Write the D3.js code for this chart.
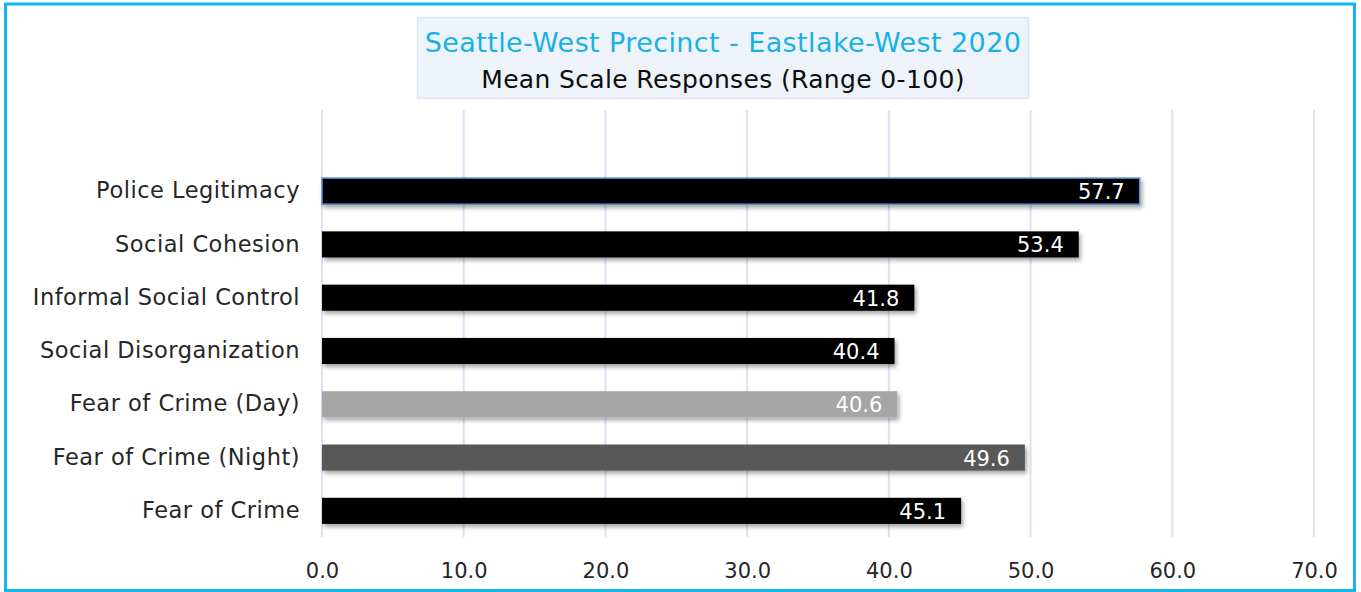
<!DOCTYPE html>
<html>
<head>
<meta charset="utf-8">
<script src="https://cdn.jsdelivr.net/npm/d3@7/dist/d3.min.js"></script>
<style>
  html, body { margin: 0; padding: 0; background: #fff; }
  svg { display: block; }
  text { font-family: "DejaVu Sans", sans-serif; }
</style>
</head>
<body>
<svg id="chart" width="1361" height="592"></svg>
<script>
const categories = ["Police Legitimacy", "Social Cohesion", "Informal Social Control", "Social Disorganization", "Fear of Crime (Day)", "Fear of Crime (Night)", "Fear of Crime"];
const values = [57.7, 53.4, 41.8, 40.4, 40.6, 49.6, 45.1];
const barColors = ["#000000", "#000000", "#000000", "#000000", "#a6a6a6", "#595959", "#000000"];
const tickValues = [0, 10, 20, 30, 40, 50, 60, 70];
const titleText = "Seattle-West Precinct - Eastlake-West 2020";
const subtitleText = "Mean Scale Responses (Range 0-100)";

const FONT = '"DejaVu Sans", sans-serif';
const svg = d3.select("#chart");

// defs: shadow
const defs = svg.append("defs");
const f = defs.append("filter").attr("id", "shadow").attr("x", "-5%").attr("y", "-30%").attr("width", "115%").attr("height", "190%");
f.append("feDropShadow").attr("dx", 2).attr("dy", 3).attr("stdDeviation", 2).attr("flood-color", "#000").attr("flood-opacity", 0.35);

// outer border
svg.append("rect").attr("x", 5.5).attr("y", 4).attr("width", 1349).attr("height", 586.5)
  .attr("fill", "#fff").attr("stroke", "#12b6ea").attr("stroke-width", 3);

const x = d3.scaleLinear().domain([0, 70]).range([322, 1314]);
const y = d3.scaleBand().domain(categories).range([164.5, 537.5]).paddingInner(0.51).paddingOuter(0.255);

// gridlines
svg.append("g").selectAll("line").data(tickValues).join("line")
  .attr("x1", d => x(d)).attr("x2", d => x(d))
  .attr("y1", 110).attr("y2", 537)
  .attr("stroke", "#d9e3f1").attr("stroke-width", 2);

// title box
svg.append("rect").attr("x", 417.5).attr("y", 17.5).attr("width", 611).attr("height", 81)
  .attr("fill", "#eef3fa").attr("stroke", "#dfe5ec").attr("stroke-width", 1.5);
svg.append("text").attr("x", 723).attr("y", 52).attr("text-anchor", "middle")
  .attr("font-size", 27).attr("letter-spacing", 0.4).attr("fill", "#18b1e6").text(titleText);
svg.append("text").attr("x", 723).attr("y", 88).attr("text-anchor", "middle")
  .attr("font-size", 25).attr("letter-spacing", 0.35).attr("fill", "#0d0d0d").text(subtitleText);

// bars
svg.append("g").selectAll("rect").data(categories).join("rect")
  .attr("x", x(0)).attr("y", d => y(d))
  .attr("width", (d, i) => x(values[i]) - x(0))
  .attr("height", y.bandwidth())
  .attr("fill", (d, i) => barColors[i])
  .attr("filter", "url(#shadow)")
  .attr("stroke", (d, i) => i === 0 ? "#5b8fd6" : "none")
  .attr("stroke-width", 1.5);

// value labels
svg.append("g").selectAll("text").data(categories).join("text")
  .attr("x", (d, i) => x(values[i]) - 15)
  .attr("y", d => y(d) + y.bandwidth() / 2 + 8)
  .attr("text-anchor", "end")
  .attr("font-size", 21).attr("fill", "#ffffff")
  .text((d, i) => values[i].toFixed(1));

// y axis labels
const yAxis = d3.axisLeft(y).tickSize(0).tickPadding(22);
const gy = svg.append("g").attr("transform", `translate(${x(0)},0)`).call(yAxis);
gy.select(".domain").remove();
gy.selectAll("text").attr("font-size", 22.5).attr("letter-spacing", 0.5).attr("fill", "#262626").style("font-family", FONT);

// x axis labels
const xAxis = d3.axisBottom(x).tickValues(tickValues).tickFormat(d3.format(".1f")).tickSize(0).tickPadding(0);
const gx = svg.append("g").attr("transform", `translate(0,563)`).call(xAxis);
gx.select(".domain").remove();
gx.selectAll("text").attr("font-size", 21).attr("fill", "#262626").attr("dy", "0.7em").style("font-family", FONT);
</script>
</body>
</html>
